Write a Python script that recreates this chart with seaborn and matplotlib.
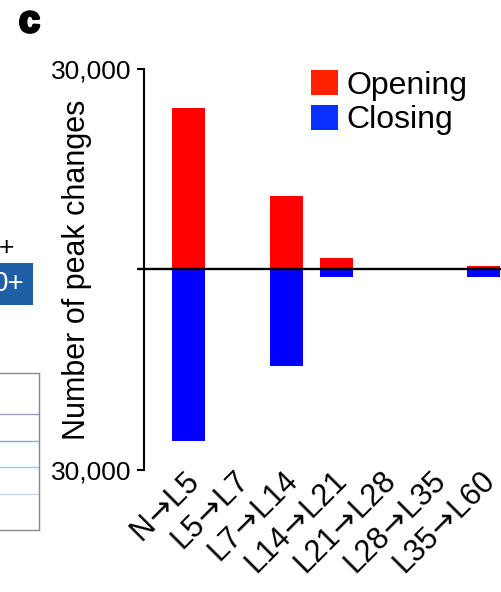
import numpy as np
import pandas as pd
import seaborn as sns
import matplotlib.pyplot as plt
import matplotlib.patheffects as pe
from matplotlib.patches import Patch
from matplotlib.ticker import FuncFormatter
from matplotlib.transforms import ScaledTranslation

sns.set_theme(style="white")
plt.rcParams["font.family"] = ["Liberation Sans", "DejaVu Sans"]
plt.rcParams["text.color"] = "black"
plt.rcParams["axes.labelcolor"] = "black"
plt.rcParams["xtick.color"] = "black"
plt.rcParams["ytick.color"] = "black"

# peak changes between stages
transitions = ["N→L5", "L5→L7", "L7→L14", "L14→L21", "L21→L28", "L28→L35", "L35→L60"]
opening = [24100, 0, 11000, 1650, 0, 0, 450]
closing = [25600, 0, 14500, 1200, 0, 0, 1200]

RED = "#ff0000"
BLUE = "#0000ff"

df = pd.DataFrame({
    "transition": transitions * 2,
    "type": ["Opening"] * len(transitions) + ["Closing"] * len(transitions),
    "value": opening + [-v for v in closing],
})

fig = plt.figure(figsize=(5.01, 5.92), dpi=100)
ax = fig.add_axes([0.2874, 0.2061, 0.7126, 0.6774])

sns.barplot(data=df, x="transition", y="value", hue="type", order=transitions,
            palette={"Opening": RED, "Closing": BLUE}, dodge=False, width=0.67,
            saturation=1, legend=False, ax=ax, linewidth=0)

ax.set_xlim(-0.9, 6.35)
ax.set_ylim(-30000, 30000)
ax.axhline(0, xmin=-6 / 357, xmax=1, color="black", lw=1.7, clip_on=False, zorder=5)

# y axis: only the two ends, both shown as positive counts
ax.set_yticks([-30000, 30000])
ax.yaxis.set_major_formatter(FuncFormatter(lambda v, _: f"{abs(v):,.0f}"))
ax.tick_params(axis="y", length=5, width=1.5, pad=4, labelsize=19, left=True)
ax.tick_params(axis="x", length=0, pad=3, labelsize=22)
ax.set_xticks(range(len(transitions)))
# Liberation Sans arrow is tiny -> mathtext arrow, pulled in a bit on both sides
ax.set_xticklabels([t.replace("→", r"$\!{\rightarrow}\!$") for t in transitions],
                   rotation=45, ha="right", va="center", rotation_mode="anchor")
shift = ScaledTranslation(0.07, -0.04, fig.dpi_scale_trans)
for lab in ax.get_xticklabels():
    lab.set_transform(lab.get_transform() + shift)

for side in ["top", "right", "bottom"]:
    ax.spines[side].set_visible(False)
ax.spines["left"].set_linewidth(1.5)
ax.spines["left"].set_color("black")
ax.set_xlabel("")
ax.set_ylabel("Number of peak changes", fontsize=22)
ax.yaxis.set_label_coords(-0.145, 0.5)

handles = [Patch(facecolor="#ff2200", edgecolor="none", label="Opening"),
           Patch(facecolor="#0a30ff", edgecolor="none", label="Closing")]
ax.legend(handles=handles, loc="upper left", bbox_to_anchor=(311 / 501, 1 - 70 / 592),
          bbox_transform=fig.transFigure, frameon=False, fontsize=23,
          handlelength=0.85, handleheight=0.85, handletextpad=0.25,
          labelspacing=0.12, borderpad=0, borderaxespad=0)

# panel letter
fig.text(0.038, 0.946, "c", fontsize=27, fontweight="bold", va="baseline",
         path_effects=[pe.withStroke(linewidth=2.2, foreground="black")])

# bits of the neighbouring panel that show at the left edge
fig.text(-0.003, 1 - 255 / 592, "+", fontsize=19, va="baseline")
fig.text(-0.014, 1 - 291 / 592, "0+", fontsize=20, color="white", va="baseline",
         bbox=dict(boxstyle="square,pad=0.3", facecolor="#1f5fa6", edgecolor="none"))
side_ax = fig.add_axes([-0.05, 1 - 530 / 592, 0.128, 157 / 592])
side_ax.set_xlim(0, 1)
side_ax.set_ylim(0, 1)
for yy, cc in zip([0.74, 0.57, 0.40, 0.23], ["#9c9cc8", "#7ab0e8", "#9cc8f0", "#c0dcf5"]):
    side_ax.axhline(yy, color=cc, lw=1)
side_ax.set_xticks([])
side_ax.set_yticks([])
for sp in side_ax.spines.values():
    sp.set_color("#888888")
    sp.set_linewidth(1)

fig.savefig("out.png", dpi=100)
